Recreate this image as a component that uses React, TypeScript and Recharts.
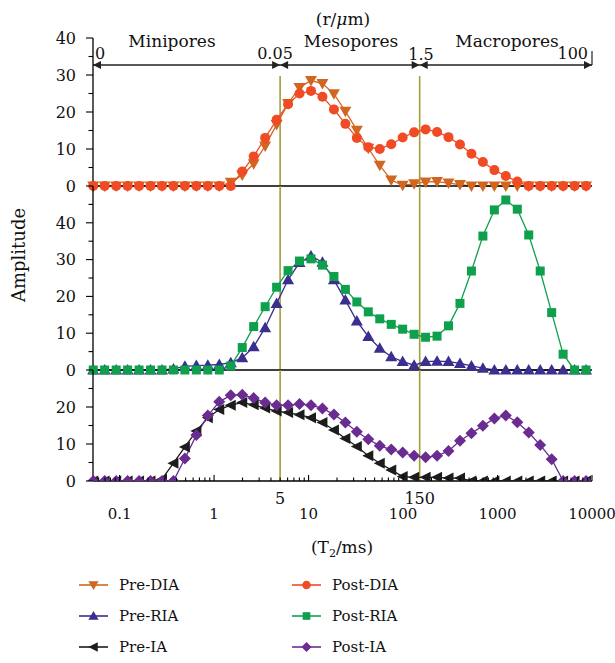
import React from 'react';
import { LineChart, Line, XAxis, YAxis, ReferenceLine } from 'recharts';

const W = 615;
const H = 663;
const FONT = '"DejaVu Serif", "Liberation Serif", serif';
const OLIVE = '#A29F3A';

// T2 relaxation times (ms) of the measured points
const t2 = [
  0.0526, 0.0695, 0.092, 0.1216, 0.1607, 0.2125, 0.281, 0.3715, 0.4911, 0.6494, 0.8586,
  1.135, 1.502, 1.986, 2.626, 3.472, 4.591, 6.07, 8.02, 10.61, 14.03, 18.55,
  24.53, 32.43, 42.88, 56.7, 75.0, 99.1, 131.0, 173.3, 229.1, 302.9, 400.5,
  529.6, 700.2, 926, 1224, 1619, 2140, 2830, 3742, 4947, 6541, 8650,
];

const preDIA = [
  0, 0, 0, 0, 0, 0, 0, 0, 0, 0, 0, 0,
  1.0, 3.0, 6.0, 10.8, 16.6, 22.3, 26.6, 28.5, 27.7, 24.9, 20.2,
  15.1, 10.2, 5.6, 1.6, 0.2, 0.6, 1.1, 1.2, 0.8, 0.4,
  0, 0, 0, 0, 0, 0, 0, 0, 0, 0, 0,
];
const postDIA = [
  0, 0, 0, 0, 0, 0, 0, 0, 0, 0, 0, 0, 0,
  3.9, 8.0, 13.0, 17.9, 22.1, 25.0, 25.7, 24.1, 20.7, 16.8, 13.0, 10.5,
  10.0, 11.3, 13.1, 14.5, 15.3, 14.6, 13.2, 11.2, 8.7, 6.5, 4.3, 2.7, 1.2,
  0, 0, 0, 0, 0, 0,
];
const preRIA = [
  0, 0, 0, 0, 0, 0, 0, 0.3,
  1.0, 1.2, 1.3, 1.5, 2.0, 3.3, 6.3, 11.5, 18.1, 24.5, 29.2, 31.0, 29.3,
  24.5, 19.0, 13.3, 9.1, 5.9, 3.6, 2.3, 1.3, 2.3, 2.4, 2.3, 1.8, 1.1, 0.5,
  0, 0, 0, 0, 0, 0, 0, 0, 0,
];
const postRIA = [
  0, 0, 0, 0, 0, 0, 0, 0, 0, 0, 0, 0,
  1.1, 6.1, 11.8, 17.2, 22.5, 27.0, 29.6, 30.2, 28.5, 25.4, 21.9, 18.5,
  15.8, 13.9, 12.4, 11.1, 9.7, 8.9, 9.2, 12.0, 18.1, 26.9, 36.4, 43.5,
  46.2, 43.7, 36.7, 26.9, 15.6, 4.3,
  0, 0,
];
const preIA = [
  0, 0, 0, 0, 0, 0,
  0.5, 4.8, 9.2, 13.5, 17.1, 19.3, 20.5, 21.2, 20.6, 19.7, 18.9, 18.5,
  17.9, 17.1, 15.8, 13.8, 11.5, 9.3, 6.8, 4.8, 3.0, 1.2, 1.0, 1.0, 1.0,
  0.8, 0.8,
  0, 0, 0, 0, 0, 0, 0, 0, 0, 0, 0,
];
const postIA = [
  0, 0, 0, 0, 0, 0, 0, 0,
  6.1, 12.4, 17.7, 21.4, 23.2, 23.3, 22.4, 21.2, 20.5, 20.5, 20.8, 20.5,
  19.6, 18.0, 15.8, 13.3, 11.3, 9.5, 8.5, 7.7, 6.8, 6.4, 6.8, 8.1, 10.9,
  12.9, 14.9, 16.9, 17.7, 15.9, 13.1, 9.7, 5.9,
  0, 0, 0,
];

const xMin = 0.0523;
const xMax = 10000;
const xMajor = [0.1, 1, 10, 100, 1000, 10000];
const xMinor = [
  0.06, 0.07, 0.08, 0.09,
  0.2, 0.3, 0.4, 0.5, 0.6, 0.7, 0.8, 0.9,
  2, 3, 4, 5, 6, 7, 8, 9,
  20, 30, 40, 50, 60, 70, 80, 90,
  200, 300, 400, 500, 600, 700, 800, 900,
  2000, 3000, 4000, 5000, 6000, 7000, 8000, 9000,
];
const cutoffs = [5, 150]; // T2 boundaries between pore classes
const cutoffLabels = ['5', '150'];

const series = [
  { key: 'preDIA', name: 'Pre-DIA', color: '#D0661F', shape: 'down' },
  { key: 'postDIA', name: 'Post-DIA', color: '#F04B24', shape: 'circle' },
  { key: 'preRIA', name: 'Pre-RIA', color: '#3A2E8E', shape: 'up' },
  { key: 'postRIA', name: 'Post-RIA', color: '#0FA04D', shape: 'square' },
  { key: 'preIA', name: 'Pre-IA', color: '#1C1C1C', shape: 'left' },
  { key: 'postIA', name: 'Post-IA', color: '#6B2C92', shape: 'diamond' },
];

const rows = t2.map((t, i) => ({
  t2: t,
  preDIA: preDIA[i],
  postDIA: postDIA[i],
  preRIA: preRIA[i],
  postRIA: postRIA[i],
  preIA: preIA[i],
  postIA: postIA[i],
}));

const panels = [
  { keys: ['preDIA', 'postDIA'], domain: [0, 40], ticks: [0, 5, 10, 15, 20, 25, 30, 35, 40], top: 38, bottom: 186 },
  { keys: ['preRIA', 'postRIA'], domain: [0, 50], ticks: [0, 5, 10, 15, 20, 25, 30, 35, 40, 45], top: 186, bottom: 370 },
  { keys: ['preIA', 'postIA'], domain: [0, 30], ticks: [0, 5, 10, 15, 20, 25], top: 370, bottom: 481 },
];

function Marker({ shape, cx, cy, color, s = 1 }: any) {
  if (cx == null || cy == null) return null;
  const p = (pts: number[][]) => pts.map(([a, b]) => `${cx + a * s},${cy + b * s}`).join(' ');
  switch (shape) {
    case 'down':
      return <polygon points={p([[-6, -4.5], [6, -4.5], [0, 6]])} fill={color} />;
    case 'up':
      return <polygon points={p([[-6, 4.5], [6, 4.5], [0, -6]])} fill={color} />;
    case 'left':
      return <polygon points={p([[-6, 0], [5, -5.5], [5, 5.5]])} fill={color} />;
    case 'circle':
      return <circle cx={cx} cy={cy} r={5 * s} fill={color} />;
    case 'square':
      return <rect x={cx - 4.5 * s} y={cy - 4.5 * s} width={9 * s} height={9 * s} fill={color} />;
    case 'diamond':
      return <polygon points={p([[0, -6], [6, 0], [0, 6], [-6, 0]])} fill={color} />;
    default:
      return null;
  }
}

const YTick = (props: any) => {
  const { x, y, payload } = props;
  const major = payload.value % 10 === 0;
  return (
    <g>
      <line x1={x} x2={x - (major ? 7 : 4.5)} y1={y} y2={y} stroke="#000" strokeWidth={1.1} />
      {major && (
        <text x={x - 17} y={y} dy="0.36em" textAnchor="end" fontFamily={FONT} fontSize={16} fill="#111">
          {payload.value}
        </text>
      )}
    </g>
  );
};

const XTick = (props: any) => {
  const { x, y, payload } = props;
  const major = xMajor.includes(payload.value);
  return (
    <g>
      <line x1={x} x2={x} y1={y} y2={y - (major ? 6 : 3.5)} stroke="#000" strokeWidth={1.1} />
      {major && (
        <text x={x} y={y + 38} textAnchor="middle" fontFamily={FONT} fontSize={15} fill="#111">
          {String(payload.value)}
        </text>
      )}
    </g>
  );
};

const arrowLine = (props: any) => (
  <line
    x1={props.x1}
    y1={props.y1}
    x2={props.x2}
    y2={props.y2}
    stroke="#222"
    strokeWidth={1.3}
    markerStart="url(#arrowHead)"
    markerEnd="url(#arrowHead)"
  />
);

function Panel({ cfg, index }: any) {
  const last = index === panels.length - 1;
  const first = index === 0;
  const xAxisH = last ? 60 : 10;
  const arrowStops = [xMin, ...cutoffs, xMax];
  return (
    <div style={{ position: 'absolute', left: 0, top: 0 }}>
      <LineChart
        width={W}
        height={H}
        data={rows}
        margin={{ top: cfg.top, right: 23, left: 43, bottom: H - cfg.bottom - xAxisH }}
      >
        <XAxis
          dataKey="t2"
          type="number"
          scale="log"
          domain={[xMin, xMax]}
          ticks={last ? [...xMajor, ...xMinor] : xMajor}
          interval={0}
          height={xAxisH}
          tickSize={0}
          tickMargin={0}
          tickLine={false}
          tick={last ? XTick : false}
          axisLine={{ stroke: '#000', strokeWidth: 1.3 }}
        />
        <YAxis
          type="number"
          domain={cfg.domain}
          ticks={cfg.ticks}
          interval={0}
          width={50}
          tickSize={0}
          tickMargin={0}
          tickLine={false}
          tick={YTick}
          allowDataOverflow={last}
          axisLine={{ stroke: '#000', strokeWidth: 1.3 }}
        />
        {cutoffs.map((c, i) =>
          first ? (
            <ReferenceLine key={c} segment={[{ x: c, y: 0 }, { x: c, y: 29.7 }]} stroke={OLIVE} strokeWidth={1.6} />
          ) : (
            <ReferenceLine
              key={c}
              x={c}
              stroke={OLIVE}
              strokeWidth={1.6}
              label={
                last
                  ? { value: cutoffLabels[i], position: 'bottom', offset: 12, fill: '#111', fontSize: 16, fontFamily: FONT }
                  : undefined
              }
            />
          )
        )}
        {first &&
          arrowStops.slice(0, -1).map((s, i) => (
            <ReferenceLine
              key={'arr' + i}
              segment={[{ x: s, y: 32.7 }, { x: arrowStops[i + 1], y: 32.7 }]}
              shape={arrowLine}
            />
          ))}
        {cfg.keys.map((k: string) => {
          const sr = series.find((d) => d.key === k)!;
          return (
            <Line
              key={k}
              dataKey={k}
              name={sr.name}
              type="linear"
              stroke={sr.color}
              strokeWidth={1.3}
              isAnimationActive={false}
              activeDot={false}
              dot={(p: any) => <Marker key={k + p.index} shape={sr.shape} cx={p.cx} cy={p.cy} color={sr.color} />}
            />
          );
        })}
      </LineChart>
    </div>
  );
}

const legendRows = [585, 616, 647];
const legendCols = [
  { lx: 79, tx: 119 },
  { lx: 292, tx: 332 },
];

function Overlay() {
  const txt = { fontFamily: FONT, fill: '#111' };
  return (
    <svg width={W} height={H} style={{ position: 'absolute', left: 0, top: 0, pointerEvents: 'none' }}>
      <defs>
        <marker
          id="arrowHead"
          viewBox="0 0 10 10"
          refX="10"
          refY="5"
          markerWidth="10"
          markerHeight="8"
          markerUnits="userSpaceOnUse"
          orient="auto-start-reverse"
        >
          <path d="M0,0 L10,5 L0,10 z" fill="#222" />
        </marker>
      </defs>
      <text x={343} y={25} textAnchor="middle" fontSize={17} {...txt}>
        (r/<tspan fontStyle="italic">μ</tspan>m)
      </text>
      <text x={172} y={47} textAnchor="middle" fontSize={17} {...txt}>Minipores</text>
      <text x={351} y={47} textAnchor="middle" fontSize={17} {...txt}>Mesopores</text>
      <text x={507} y={47} textAnchor="middle" fontSize={17} {...txt}>Macropores</text>
      <text x={95} y={59} textAnchor="start" fontSize={16} {...txt}>0</text>
      <text x={275} y={59} textAnchor="middle" fontSize={16} {...txt}>0.05</text>
      <text x={421} y={60} textAnchor="middle" fontSize={16} {...txt}>1.5</text>
      <text x={588} y={59} textAnchor="end" fontSize={16} {...txt}>100</text>
      <line x1={592} x2={592} y1={51} y2={65} stroke="#222" strokeWidth={1.2} />
      <text x={342} y={553} textAnchor="middle" fontSize={17} {...txt}>
        (T<tspan dy={4} fontSize={11}>2</tspan>
        <tspan dy={-4}>/ms)</tspan>
      </text>
      <text x={25} y={255} textAnchor="middle" fontSize={18} transform="rotate(-90, 25, 255)" {...txt}>
        Amplitude
      </text>
      {series.map((s, i) => {
        const col = legendCols[i % 2];
        const y = legendRows[Math.floor(i / 2)];
        return (
          <g key={s.key}>
            <line x1={col.lx} x2={col.lx + 29} y1={y} y2={y} stroke={s.color} strokeWidth={2} strokeOpacity={0.8} />
            <Marker shape={s.shape} cx={col.lx + 14.5} cy={y} color={s.color} s={0.85} />
            <text x={col.tx} y={y} dy="0.36em" fontSize={15} {...txt}>
              {s.name}
            </text>
          </g>
        );
      })}
    </svg>
  );
}

export default function App() {
  return (
    <div style={{ position: 'absolute', left: 0, top: 0, width: W, height: H, background: '#fff' }}>
      {panels.map((cfg, i) => (
        <Panel key={i} cfg={cfg} index={i} />
      ))}
      <Overlay />
    </div>
  );
}
